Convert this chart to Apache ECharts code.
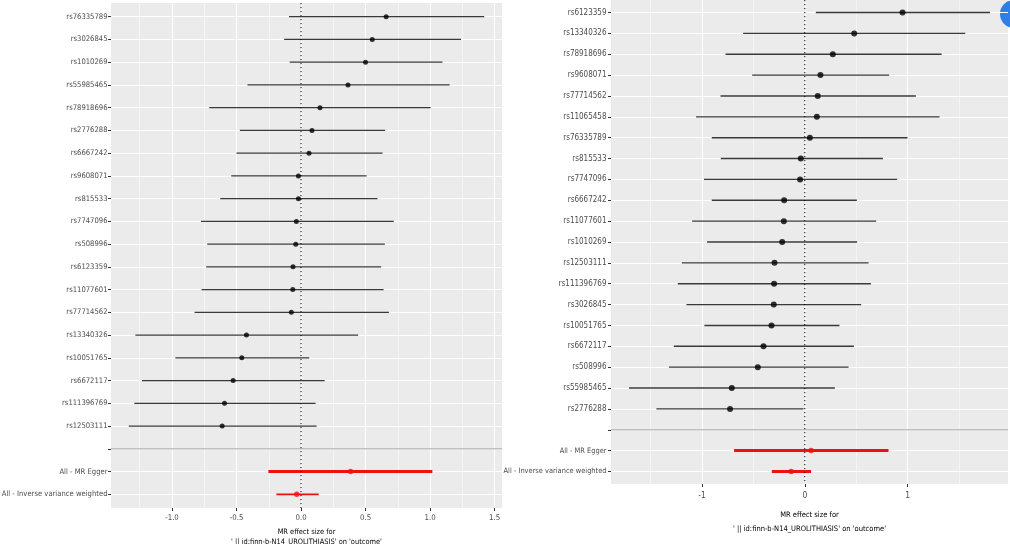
<!DOCTYPE html>
<html>
<head>
<meta charset="utf-8">
<title>MR forest plots</title>
<script src="https://cdn.jsdelivr.net/npm/echarts@6/dist/echarts.min.js"></script>
<style>
  html, body { margin: 0; padding: 0; background: #fff; }
  #chart { width: 1010px; height: 544px; }
</style>
</head>
<body>
<div id="chart"></div>
<script>
// 左图 - 单个 SNP 的效应值和置信区间
const leftSnps = ['rs76335789', 'rs3026845', 'rs1010269', 'rs55985465', 'rs78918696', 'rs2776288', 'rs6667242',
    'rs9608071', 'rs815533', 'rs7747096', 'rs508996', 'rs6123359', 'rs11077601', 'rs77714562', 'rs13340326',
    'rs10051765', 'rs6672117', 'rs111396769', 'rs12503111']
const leftBeta = [0.66, 0.552, 0.5, 0.364, 0.147, 0.085, 0.062, -0.02, -0.02, -0.036, -0.041, -0.062, -0.064,
    -0.075, -0.423, -0.459, -0.526, -0.593, -0.611]
const leftLower = [-0.093, -0.131, -0.088, -0.415, -0.711, -0.474, -0.5, -0.541, -0.626, -0.776, -0.727, -0.735,
    -0.771, -0.825, -1.284, -0.974, -1.232, -1.292, -1.335]
const leftUpper = [1.42, 1.24, 1.096, 1.152, 1.005, 0.652, 0.632, 0.508, 0.593, 0.719, 0.65, 0.621, 0.64, 0.681,
    0.443, 0.064, 0.183, 0.113, 0.121]
const leftMethods = ['All - MR Egger', 'All - Inverse variance weighted']
const leftMethodBeta = [0.384, -0.033]
const leftMethodLower = [-0.253, -0.191]
const leftMethodUpper = [1.018, 0.137]
const leftTicks = [-1, -0.5, 0, 0.5, 1, 1.5]
const leftMinorTicks = [-1.25, -0.75, -0.25, 0.25, 0.75, 1.25]

// 右图
const rightSnps = ['rs6123359', 'rs13340326', 'rs78918696', 'rs9608071', 'rs77714562', 'rs11065458', 'rs76335789',
    'rs815533', 'rs7747096', 'rs6667242', 'rs11077601', 'rs1010269', 'rs12503111', 'rs111396769', 'rs3026845',
    'rs10051765', 'rs6672117', 'rs508996', 'rs55985465', 'rs2776288']
const rightBeta = [0.95, 0.48, 0.272, 0.152, 0.126, 0.117, 0.049, -0.039, -0.046, -0.201, -0.204, -0.22, -0.295,
    -0.299, -0.302, -0.324, -0.402, -0.457, -0.71, -0.727]
const rightLower = [0.107, -0.6, -0.771, -0.512, -0.82, -1.057, -0.905, -0.817, -0.98, -0.905, -1.096, -0.95,
    -1.196, -1.235, -1.151, -0.976, -1.274, -1.32, -1.709, -1.443]
const rightUpper = [1.8, 1.56, 1.33, 0.82, 1.08, 1.31, 0.999, 0.759, 0.898, 0.506, 0.694, 0.509, 0.62, 0.642,
    0.548, 0.337, 0.477, 0.425, 0.292, -0.013]
const rightMethods = ['All - MR Egger', 'All - Inverse variance weighted']
const rightMethodBeta = [0.061, -0.133]
const rightMethodLower = [-0.688, -0.321]
const rightMethodUpper = [0.814, 0.061]
const rightTicks = [-1, 0, 1]
const rightMinorTicks = [-1.5, -0.5, 0.5, 1.5]

const axisTitle = "MR effect size for\n' || id:finn-b-N14_UROLITHIASIS' on 'outcome'"
const font = "'Liberation Sans Narrow', 'DejaVu Sans Condensed', sans-serif"

// 每个面板的布局和样式
const panels = [
    {
        snps: leftSnps, beta: leftBeta, lower: leftLower, upper: leftUpper,
        methods: leftMethods, mBeta: leftMethodBeta, mLower: leftMethodLower, mUpper: leftMethodUpper,
        ticks: leftTicks, minor: leftMinorTicks, digits: 1,
        grid: { left: 111, top: 3, width: 391, height: 505 },
        snpFont: 7.6, methodFont: 7.6, tickFont: 7.8, nameFont: 7.4,
        labelMargin: 6, yMargin: 3.5, nameGap: 14, nameLine: 10,
        barWidth: 1.2, dotSize: 5, mWidth: [3, 1.8], mDot: 5.5,
    },
    {
        snps: rightSnps, beta: rightBeta, lower: rightLower, upper: rightUpper,
        methods: rightMethods, mBeta: rightMethodBeta, mLower: rightMethodLower, mUpper: rightMethodUpper,
        ticks: rightTicks, minor: rightMinorTicks, digits: 0,
        grid: { left: 611, top: 0, width: 397, height: 484 },
        snpFont: 8, methodFont: 7.4, tickFont: 8.4, nameFont: 7.5,
        labelMargin: 8, yMargin: 4.5, nameGap: 24, nameLine: 14,
        barWidth: 1.4, dotSize: 6, mWidth: [3, 3], mDot: 5.5,
    },
]

const grids = []
const xAxes = []
const yAxes = []
const series = []

panels.forEach((p, k) => {
    // 类目: SNP + 空行(分隔) + 汇总方法
    const cats = p.snps.concat([''], p.methods)
    const sep = p.snps.length
    const idx = cats.map((c, i) => i)

    // 和 ggplot 一样, 数据范围两边各扩 5%
    const lo = Math.min(...p.lower, ...p.mLower)
    const hi = Math.max(...p.upper, ...p.mUpper)
    const pad = (hi - lo) * 0.05

    grids.push(Object.assign({ show: true, backgroundColor: '#EBEBEB', borderWidth: 0, outerBoundsMode: 'none' }, p.grid))

    xAxes.push({
        type: 'value', gridIndex: k, min: lo - pad, max: hi + pad, position: 'bottom',
        axisLine: { show: false, onZero: false },
        axisTick: { customValues: p.ticks, length: 3, lineStyle: { color: '#333' } },
        axisLabel: {
            customValues: p.ticks, color: '#4D4D4D', fontSize: p.tickFont, fontFamily: font,
            margin: p.labelMargin, formatter: v => v.toFixed(p.digits),
        },
        splitLine: { show: true, lineStyle: { color: '#fff', width: 1.1 } },
        name: axisTitle, nameLocation: 'middle', nameGap: p.nameGap,
        nameTextStyle: { color: '#000', fontSize: p.nameFont, fontFamily: font, lineHeight: p.nameLine },
    })
    xAxes.push({
        type: 'value', gridIndex: k, min: lo - pad, max: hi + pad, position: 'top',
        axisLine: { show: false, onZero: false },
        axisTick: { show: false, customValues: p.minor },
        axisLabel: { show: false, customValues: p.minor },
        splitLine: { show: true, lineStyle: { color: '#fff', width: 0.5 } },
    })
    yAxes.push({
        type: 'value', gridIndex: k, inverse: true, min: -0.6, max: cats.length - 0.4, position: 'left',
        axisLine: { show: false, onZero: false },
        axisTick: { customValues: idx, length: 3, lineStyle: { color: '#333' } },
        axisLabel: {
            customValues: idx, color: '#4D4D4D', fontSize: p.snpFont, fontFamily: font, margin: p.yMargin,
            formatter: v => {
                const i = Math.round(v)
                return i > sep ? '{m|' + cats[i] + '}' : cats[i]
            },
            rich: { m: { fontSize: p.methodFont, fontFamily: font, color: '#4D4D4D' } },
        },
        splitLine: { show: true, lineStyle: { color: '#fff', width: 1.1 } },
    })

    const xi = 2 * k

    // 置信区间横线
    const bar = (color, widths) => (params, api) => {
        const a = api.coord([api.value(0), api.value(2)])
        const b = api.coord([api.value(1), api.value(2)])
        const w = Array.isArray(widths) ? widths[params.dataIndex] : widths
        return { type: 'line', shape: { x1: a[0], y1: a[1], x2: b[0], y2: b[1] }, style: { stroke: color, lineWidth: w } }
    }

    series.push({
        type: 'custom', xAxisIndex: xi, yAxisIndex: k, encode: { x: [0, 1], y: 2 },
        data: p.snps.map((s, i) => [p.lower[i], p.upper[i], i]),
        renderItem: bar('#3a3a3a', p.barWidth),
    })
    series.push({
        type: 'scatter', xAxisIndex: xi, yAxisIndex: k, symbolSize: p.dotSize,
        itemStyle: { color: '#000' }, z: 4,
        data: p.snps.map((s, i) => [p.beta[i], i]),
    })
    series.push({
        type: 'custom', xAxisIndex: xi, yAxisIndex: k, encode: { x: [0, 1], y: 2 },
        data: p.methods.map((m, j) => [p.mLower[j], p.mUpper[j], sep + 1 + j]),
        renderItem: bar('#EE1111', p.mWidth),
    })
    series.push({
        type: 'scatter', xAxisIndex: xi, yAxisIndex: k, symbolSize: p.mDot,
        itemStyle: { color: '#EE1111' }, z: 4,
        data: p.methods.map((m, j) => [p.mBeta[j], sep + 1 + j]),
    })

    // 分隔线 (空行) 和 0 处的虚线
    series.push({
        type: 'custom', xAxisIndex: xi, yAxisIndex: k, z: 1,
        data: [[0, sep]],
        renderItem: (params, api) => {
            const cs = params.coordSys
            const y = api.coord([api.value(0), api.value(1)])[1]
            return { type: 'line', shape: { x1: cs.x, y1: y, x2: cs.x + cs.width, y2: y }, style: { stroke: '#BEBEBE', lineWidth: 1.5 } }
        },
    })
    series.push({
        type: 'custom', xAxisIndex: xi, yAxisIndex: k, z: 3,
        data: [[0, 0]],
        renderItem: (params, api) => {
            const cs = params.coordSys
            const x = api.coord([api.value(0), api.value(1)])[0]
            return {
                type: 'line', shape: { x1: x, y1: cs.y, x2: x, y2: cs.y + cs.height },
                style: { stroke: '#000', lineWidth: 1, lineDash: [1.2, 2.8] },
            }
        },
    })
})

const chart = echarts.init(document.getElementById('chart'))
chart.setOption({
    backgroundColor: '#fff',
    animation: false,
    grid: grids,
    xAxis: xAxes,
    yAxis: yAxes,
    series: series,
    // 右上角截图里的蓝色悬浮按钮
    graphic: [
        { type: 'circle', shape: { cx: 1014, cy: 14, r: 14 }, style: { fill: '#2F7FE6' } },
    ],
})

window.addEventListener('resize', () => chart.resize())
</script>
</body>
</html>
